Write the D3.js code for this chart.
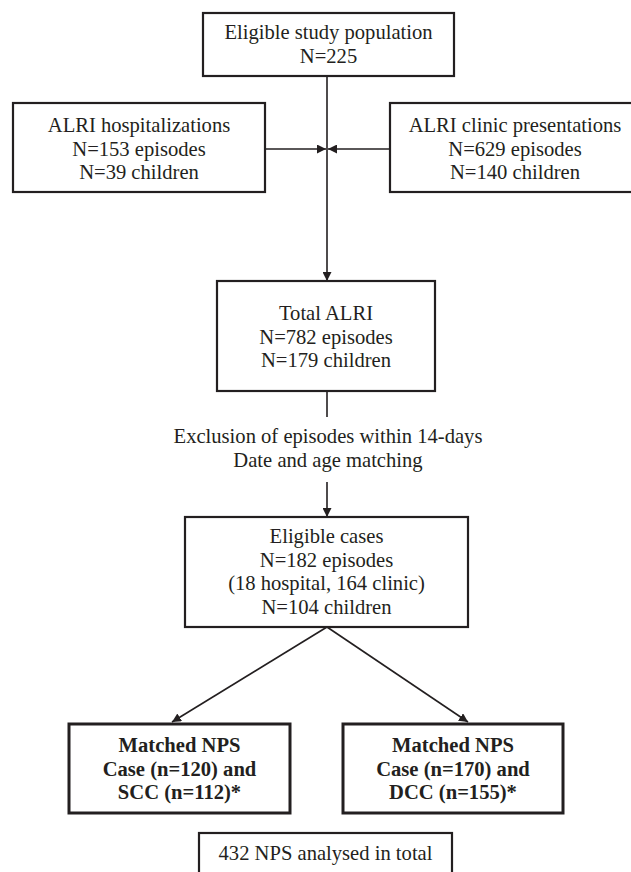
<!DOCTYPE html>
<html>
<head>
<meta charset="utf-8">
<script src="https://cdn.jsdelivr.net/npm/d3@7"></script>
<style>
  body { margin: 0; background: #fff; }
  svg { display: block; }
</style>
</head>
<body>
<div id="chart"></div>
<script>
// box texts
const populationText = ["Eligible study population", "N=225"];
const hospitalText = ["ALRI hospitalizations", "N=153 episodes", "N=39 children"];
const clinicText = ["ALRI clinic presentations", "N=629 episodes", "N=140 children"];
const totalText = ["Total ALRI", "N=782 episodes", "N=179 children"];
const exclusionText = ["Exclusion of episodes within 14-days", "Date and age matching"];
const casesText = ["Eligible cases", "N=182 episodes", "(18 hospital, 164 clinic)", "N=104 children"];
const sccText = ["Matched NPS", "Case (n=120) and", "SCC (n=112)*"];
const dccText = ["Matched NPS", "Case (n=170) and", "DCC (n=155)*"];
const totalNpsText = ["432 NPS analysed in total"];

const width = 631, height = 872;
const ink = "#231f20";
const font = '"Liberation Serif"';
const fontSize = 20.6;

// layout: box edges + first baseline
const layout = {
  population: { x0: 203, x1: 454, y0: 13, y1: 76, base: 39, bold: false },
  hospital:   { x0: 13, x1: 265, y0: 103, y1: 192, base: 132, bold: false },
  clinic:     { x0: 390, x1: 640, y0: 103, y1: 192, base: 132, bold: false },
  total:      { x0: 217, x1: 435, y0: 281, y1: 391, base: 320, bold: false },
  cases:      { x0: 185, x1: 468, y0: 517, y1: 627, base: 543, bold: false },
  scc:        { x0: 69, x1: 290, y0: 724, y1: 813, base: 752, bold: true },
  dcc:        { x0: 343, x1: 563, y0: 724, y1: 813, base: 752, bold: true },
  totalNps:   { x0: 199, x1: 452, y0: 833, y1: 890, base: 860, bold: false }
};
const texts = {
  population: populationText, hospital: hospitalText, clinic: clinicText,
  total: totalText, cases: casesText, scc: sccText, dcc: dccText, totalNps: totalNpsText
};
const lineGap = 23.7;

const svg = d3.select("#chart").append("svg")
  .attr("width", width)
  .attr("height", height);

svg.append("defs").append("marker")
  .attr("id", "arrow")
  .attr("viewBox", "0 0 10 10")
  .attr("refX", 10).attr("refY", 5)
  .attr("markerWidth", 9).attr("markerHeight", 9)
  .attr("markerUnits", "userSpaceOnUse")
  .attr("orient", "auto")
  .append("path")
  .attr("d", "M0,0 L10,5 L0,10 Z")
  .attr("fill", ink);

const midX = 327;
const links = [
  { pts: [[midX, 76], [midX, 281]], arrow: true },
  { pts: [[265, 149], [326, 149]], arrow: true },
  { pts: [[390, 149], [328, 149]], arrow: true },
  { pts: [[midX, 391], [midX, 417]], arrow: false },
  { pts: [[midX, 482], [midX, 517]], arrow: true },
  { pts: [[midX, 627], [172, 722]], arrow: true },
  { pts: [[midX, 627], [468, 722]], arrow: true }
];

const line = d3.line();
svg.append("g").selectAll("path")
  .data(links)
  .join("path")
    .attr("d", d => line(d.pts))
    .attr("fill", "none")
    .attr("stroke", ink)
    .attr("stroke-width", 1.6)
    .attr("marker-end", d => d.arrow ? "url(#arrow)" : null);

const keys = Object.keys(layout);
const boxes = svg.append("g").selectAll("g")
  .data(keys)
  .join("g");

boxes.append("rect")
  .attr("x", k => layout[k].x0)
  .attr("y", k => layout[k].y0)
  .attr("width", k => layout[k].x1 - layout[k].x0)
  .attr("height", k => layout[k].y1 - layout[k].y0)
  .attr("fill", "#fff")
  .attr("stroke", ink)
  .attr("stroke-width", k => layout[k].bold ? 3 : 2.2);

boxes.each(function(k) {
  const b = layout[k];
  const cx = (b.x0 + b.x1) / 2;
  d3.select(this).selectAll("text")
    .data(texts[k])
    .join("text")
      .attr("x", cx)
      .attr("y", (d, i) => b.base + i * lineGap)
      .attr("text-anchor", "middle")
      .style("font-family", font)
      .style("font-size", fontSize + "px")
      .style("font-weight", b.bold ? "bold" : "normal")
      .attr("fill", ink)
      .text(d => d);
});

svg.append("g").selectAll("text")
  .data(exclusionText)
  .join("text")
    .attr("x", 328)
    .attr("y", (d, i) => 443 + i * lineGap)
    .attr("text-anchor", "middle")
    .style("font-family", font)
    .style("font-size", fontSize + "px")
    .attr("fill", ink)
    .text(d => d);
</script>
</body>
</html>
